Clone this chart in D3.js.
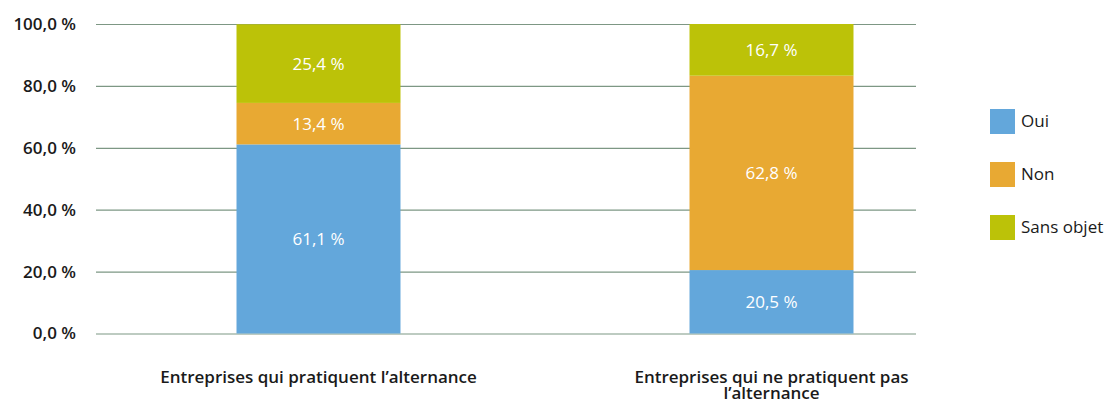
<!DOCTYPE html>
<html>
<head>
<meta charset="utf-8">
<script src="https://cdn.jsdelivr.net/npm/d3@7"></script>
<style>
  body { margin: 0; background: #fff; }
  text { font-family: "Open Sans", "DejaVu Sans", sans-serif; }
</style>
</head>
<body>
<script>
// categories and series values (percent)
var categories = ["Entreprises qui pratiquent l\u2019alternance", "Entreprises qui ne pratiquent pas l\u2019alternance"];
var categoryLines = [["Entreprises qui pratiquent l\u2019alternance"], ["Entreprises qui ne pratiquent pas", "l\u2019alternance"]];
var seriesNames = ["Oui", "Non", "Sans objet"];
var oui = [61.1, 20.5];
var non = [13.4, 62.8];
var sansObjet = [25.4, 16.7];
var yTicks = [0, 20, 40, 60, 80, 100];
var colors = ["#63a7db", "#e8a933", "#bcc208"];

var w = 1108, h = 400;
var svg = d3.select("body").append("svg").attr("width", w).attr("height", h);

var rows = categories.map(function(c, i) {
  return { cat: c, Oui: oui[i], Non: non[i], "Sans objet": sansObjet[i] };
});
var stacked = d3.stack().keys(seriesNames)(rows);

var xScale = d3.scaleBand()
  .domain(categories)
  .range([92, 998])
  .paddingInner(0.638)
  .paddingOuter(0.319);

var yScale = d3.scaleLinear()
  .domain([0, 100])
  .range([333.5, 24]);

function fmt(v) { return d3.format(".1f")(v).replace(".", ",") + " %"; }

// gridlines + y labels
var yAxis = d3.axisLeft(yScale)
  .tickValues(yTicks)
  .tickSize(-820)
  .tickFormat(fmt);

var gy = svg.append("g")
  .attr("transform", "translate(96,0)")
  .call(yAxis);
gy.select(".domain").remove();
gy.selectAll(".tick line").attr("stroke", "#7d9784").attr("stroke-width", 1.2);
gy.selectAll(".tick text")
  .attr("x", -20)
  .attr("fill", "#1a1a1a")
  .style("font-size", "17px")
  .style("font-weight", "600");

// bars
var layer = svg.selectAll("g.layer")
  .data(stacked)
  .enter().append("g")
  .attr("class", "layer")
  .attr("fill", function(d, i) { return colors[i]; });

layer.selectAll("rect")
  .data(function(d) { return d; })
  .enter().append("rect")
  .attr("x", function(d) { return xScale(d.data.cat); })
  .attr("y", function(d) { return yScale(d[1]); })
  .attr("width", xScale.bandwidth())
  .attr("height", function(d) { return yScale(d[0]) - yScale(d[1]); });

layer.selectAll("text")
  .data(function(d) { return d.map(function(p) { return { p: p, key: d.key }; }); })
  .enter().append("text")
  .attr("x", function(d) { return xScale(d.p.data.cat) + xScale.bandwidth() / 2; })
  .attr("y", function(d) { return (yScale(d.p[0]) + yScale(d.p[1])) / 2; })
  .attr("text-anchor", "middle")
  .attr("dy", "0.35em")
  .attr("fill", "#fff")
  .style("font-size", "17px")
  .text(function(d) { return fmt(d.p.data[d.key]); });

// category labels
categories.forEach(function(c, i) {
  var t = svg.append("text")
    .attr("x", xScale(c) + xScale.bandwidth() / 2)
    .attr("y", 383)
    .attr("text-anchor", "middle")
    .attr("fill", "#1a1a1a")
    .style("font-size", "17px")
    .style("font-weight", "600");
  categoryLines[i].forEach(function(line, j) {
    t.append("tspan")
      .attr("x", xScale(c) + xScale.bandwidth() / 2)
      .attr("dy", j == 0 ? 0 : 16)
      .text(line);
  });
});

// legend
var legend = svg.selectAll("g.legend")
  .data(seriesNames)
  .enter().append("g")
  .attr("class", "legend")
  .attr("transform", function(d, i) { return "translate(990," + (109 + i * 53) + ")"; });

legend.append("rect")
  .attr("width", 25)
  .attr("height", 25)
  .attr("fill", function(d, i) { return colors[i]; });

legend.append("text")
  .attr("x", 31)
  .attr("y", 12.5)
  .attr("dy", "0.35em")
  .attr("fill", "#1a1a1a")
  .style("font-size", "17px")
  .text(function(d) { return d; });
</script>
</body>
</html>
